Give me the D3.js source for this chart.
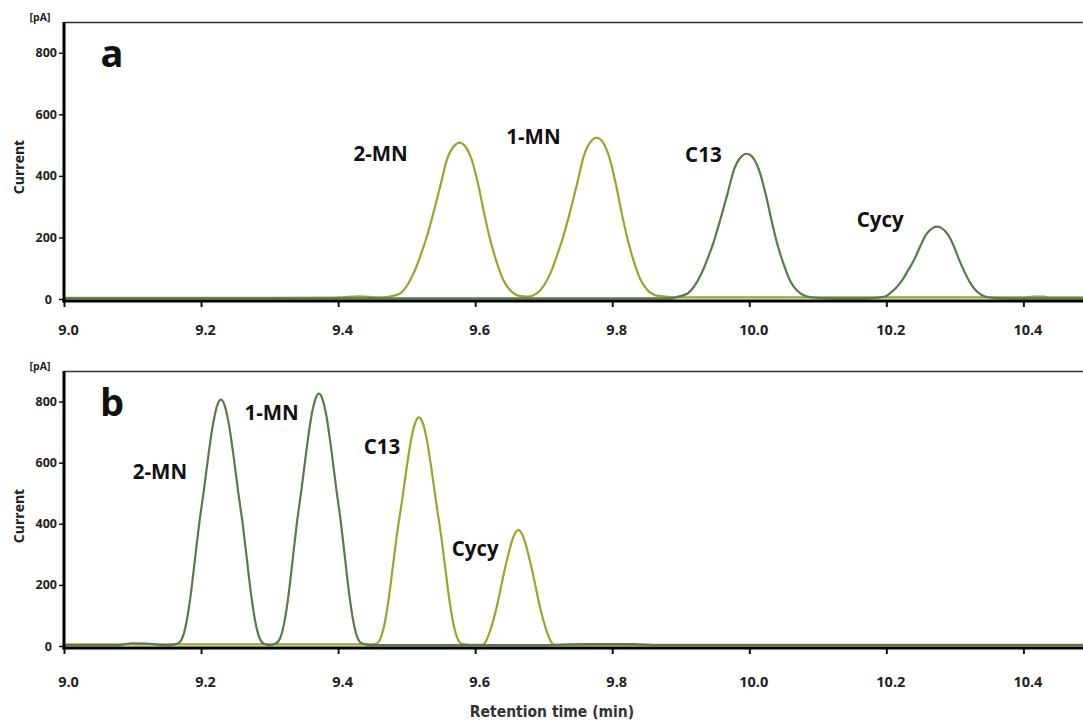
<!DOCTYPE html>
<html>
<head>
<meta charset="utf-8">
<script src="https://cdn.jsdelivr.net/npm/d3@7"></script>
<style>
  html, body { margin: 0; padding: 0; background: #fff; }
  svg { display: block; }
</style>
</head>
<body>
<svg id="chart" width="1083" height="722"></svg>
<script>
// ---------------- DATA ----------------
const xTicks = [9.0, 9.2, 9.4, 9.6, 9.8, 10.0, 10.2, 10.4];
const yTicks = [0, 200, 400, 600, 800];
const xDomain = [9.0, 10.487];
const yDomain = [0, 900];

// Panel a — olive trace (2-MN, 1-MN)
const aOliveTime = [9.0, 9.30, 9.40, 9.43, 9.46, 9.476, 9.4905, 9.500, 9.510, 9.5197, 9.5295, 9.539, 9.549, 9.5587, 9.5705, 9.577, 9.584, 9.595, 9.605, 9.613, 9.622, 9.632, 9.641, 9.651, 9.663, 9.677,
  9.6905, 9.700, 9.710, 9.7197, 9.7295, 9.739, 9.749, 9.7587, 9.7705, 9.777, 9.784, 9.795, 9.805, 9.813, 9.822, 9.832, 9.841, 9.851, 9.863, 9.878, 9.90, 10.0, 10.40, 10.415, 10.43, 10.44, 10.487];
const aOliveValue = [4, 4, 5, 9, 5, 8, 18, 42, 83, 138, 203, 279, 366, 452, 500, 508, 500, 452, 366, 279, 192, 116, 62, 29, 11, 8,
  19, 43, 85, 143, 210, 288, 377, 466, 516, 524, 516, 466, 377, 288, 198, 119, 64, 30, 12, 8, 5, 5, 5, 8, 8, 5, 5];

// Panel a — dark green trace (C13, Cycy)
const aDarkTime = [9.0, 9.5, 9.88, 9.895, 9.9095, 9.919, 9.929, 9.9387, 9.9485, 9.958, 9.968, 9.9777, 9.9895, 9.996, 10.003, 10.014, 10.024, 10.032, 10.041, 10.051, 10.060, 10.070, 10.082, 10.097, 10.12, 10.17,
  10.185, 10.198, 10.206, 10.215, 10.224, 10.232, 10.241, 10.249, 10.258, 10.268, 10.274, 10.280, 10.290, 10.299, 10.306, 10.314, 10.322, 10.330, 10.339, 10.350, 10.363, 10.40, 10.487];
const aDarkValue = [2, 2, 2, 7, 17, 39, 77, 128, 189, 260, 340, 420, 465, 472, 465, 420, 340, 260, 178, 108, 58, 27, 10, 4, 2, 2,
  4, 8, 20, 38, 64, 94, 129, 169, 209, 231, 235, 231, 209, 169, 129, 89, 54, 29, 13, 5, 3, 2, 2];

// Panel b — dark green trace (2-MN, 1-MN)
const bDarkTime = [9.0, 9.08, 9.10, 9.12, 9.14, 9.155,
  9.166, 9.173, 9.179, 9.185, 9.191, 9.197, 9.204, 9.211, 9.218, 9.224, 9.229, 9.234, 9.240, 9.247, 9.254, 9.261, 9.267, 9.273, 9.279, 9.285, 9.291,
  9.300,
  9.309, 9.316, 9.322, 9.328, 9.334, 9.340, 9.347, 9.354, 9.361, 9.367, 9.372, 9.377, 9.383, 9.390, 9.397, 9.404, 9.410, 9.416, 9.422, 9.428, 9.435,
  9.447, 9.70, 9.76, 9.83, 9.86, 10.487];
const bDarkValue = [3, 3, 9, 8, 4, 3,
  8, 28, 81, 169, 282, 395, 508, 629, 733, 790, 806, 790, 733, 629, 508, 395, 282, 169, 81, 28, 8,
  3,
  8, 29, 83, 173, 289, 405, 520, 644, 752, 809, 826, 809, 752, 644, 520, 405, 289, 173, 83, 29, 8,
  3, 3, 6, 6, 3, 3];

// Panel b — olive trace (C13, Cycy)
const bOliveTime = [9.0, 9.443,
  9.455, 9.462, 9.468, 9.474, 9.480, 9.486, 9.493, 9.500, 9.507, 9.513, 9.518, 9.523, 9.529, 9.536, 9.543, 9.550, 9.556, 9.562, 9.568, 9.574, 9.581,
  9.593,
  9.610, 9.615, 9.620, 9.626, 9.632, 9.637, 9.642, 9.648, 9.654, 9.659, 9.663, 9.667, 9.672, 9.678, 9.684, 9.689, 9.694, 9.700, 9.706, 9.711, 9.716,
  9.74, 10.487];
const bOliveValue = [5, 5,
  7, 26, 75, 157, 262, 367, 471, 583, 681, 733, 748, 733, 681, 583, 471, 367, 262, 157, 75, 26, 7,
  4,
  4, 13, 38, 80, 133, 186, 239, 296, 346, 372, 380, 372, 346, 296, 239, 186, 133, 80, 38, 13, 4,
  4, 4];

// Peak labels
const aLabels = ["2-MN", "1-MN", "C13", "Cycy"];
const aLabelTime = [9.462, 9.685, 9.933, 10.191];
const aLabelValue = [450, 504, 445, 234];
const bLabels = ["2-MN", "1-MN", "C13", "Cycy"];
const bLabelTime = [9.14, 9.303, 9.464, 9.6];
const bLabelValue = [547, 741, 630, 295];

const panelLetters = ["a", "b"];

// ---------------- DRAWING ----------------
const COL_OLIVE = "#98a72b";
const COL_DARK = "#5a7a4e";
const FONT = "'Open Sans', 'DejaVu Sans', sans-serif";

const svg = d3.select("#chart");
const left = 64, right = 1083;

const x = d3.scaleLinear().domain(xDomain).range([left, right]);

const panels = [
  { top: 22, zero: 299, letter: panelLetters[0],
    traces: [[aOliveTime, aOliveValue, COL_OLIVE], [aDarkTime, aDarkValue, COL_DARK]],
    labels: [aLabels, aLabelTime, aLabelValue], tickLabelY: 335 },
  { top: 371, zero: 646, letter: panelLetters[1],
    traces: [[bOliveTime, bOliveValue, COL_OLIVE], [bDarkTime, bDarkValue, COL_DARK]],
    labels: [bLabels, bLabelTime, bLabelValue], tickLabelY: 687 }
];

panels.forEach(p => {
  const y = d3.scaleLinear().domain(yDomain).range([p.zero, p.top]);
  const g = svg.append("g");

  // top border
  g.append("line")
    .attr("x1", left).attr("x2", right)
    .attr("y1", p.top + 0.5).attr("y2", p.top + 0.5)
    .attr("stroke", "#333").attr("stroke-width", 1.5);

  // traces
  const line = d3.line()
    .x(d => x(d[0])).y(d => y(d[1]))
    .curve(d3.curveMonotoneX);
  p.traces.forEach(([ts, vs, col]) => {
    const pts = ts.map((t, i) => [t, vs[i]]);
    g.append("path")
      .datum(pts)
      .attr("d", line)
      .attr("fill", "none")
      .attr("stroke", col)
      .attr("stroke-width", 2.2)
      .attr("stroke-linejoin", "round");
  });

  // y axis
  const yAxis = d3.axisLeft(y).tickValues(yTicks).tickSize(5).tickPadding(2).tickFormat(d3.format("d"));
  const ya = g.append("g").attr("transform", `translate(${left},0)`).call(yAxis);
  ya.select(".domain").remove();
  ya.selectAll(".tick line").attr("stroke", "#111").attr("stroke-width", 1.5);
  ya.selectAll(".tick text")
    .attr("font-family", FONT).attr("font-weight", 700).attr("font-size", 12.5)
    .attr("fill", "#222")
    .attr("dx", d => d === 0 ? -5 : 0);
  g.append("line")
    .attr("x1", left).attr("x2", left)
    .attr("y1", p.top).attr("y2", p.zero + 3.5)
    .attr("stroke", "#000").attr("stroke-width", 3);

  // x axis
  const xAxis = d3.axisBottom(x).tickValues(xTicks).tickSize(6).tickPadding(0).tickFormat(d3.format(".1f"));
  const xa = g.append("g").attr("transform", `translate(0,${p.zero + 2})`).call(xAxis);
  xa.select(".domain").remove();
  xa.selectAll(".tick line").attr("stroke", "#111").attr("stroke-width", 2);
  xa.selectAll(".tick text")
    .attr("font-family", FONT).attr("font-weight", 700).attr("font-size", 14.5)
    .attr("fill", "#222")
    .attr("dx", 4)
    .attr("y", p.tickLabelY - p.zero - 2 - 10);
  g.append("line")
    .attr("x1", left - 1.5).attr("x2", right)
    .attr("y1", p.zero + 2).attr("y2", p.zero + 2)
    .attr("stroke", "#000").attr("stroke-width", 3);

  // [pA]
  g.append("text")
    .attr("x", 40).attr("y", p.top - 1)
    .attr("text-anchor", "middle")
    .attr("font-family", FONT).attr("font-weight", 700).attr("font-size", 10.5)
    .attr("fill", "#222")
    .text("[pA]");

  // Current
  const cy = p.top + 145;
  g.append("text")
    .attr("transform", `translate(24,${cy}) rotate(-90)`)
    .attr("text-anchor", "middle")
    .attr("font-family", FONT).attr("font-weight", 700).attr("font-size", 14)
    .attr("fill", "#222")
    .text("Current");

  // panel letter
  g.append("text")
    .attr("x", 112).attr("y", p.top + 45)
    .attr("text-anchor", "middle")
    .attr("font-family", FONT).attr("font-weight", 700).attr("font-size", 38)
    .attr("fill", "#111")
    .text(p.letter);

  // peak labels
  const [names, lt, lv] = p.labels;
  names.forEach((n, i) => {
    g.append("text")
      .attr("x", x(lt[i])).attr("y", y(lv[i]))
      .attr("text-anchor", "middle")
      .attr("font-family", FONT).attr("font-weight", 700).attr("font-size", 20.5)
      .attr("fill", "#111")
      .text(n);
  });
});

// x axis title
svg.append("text")
  .attr("x", 552).attr("y", 717)
  .attr("text-anchor", "middle")
  .attr("font-family", "'DejaVu Sans Condensed', 'DejaVu Sans', sans-serif")
  .attr("font-stretch", "condensed")
  .attr("font-weight", 700).attr("font-size", 15.5)
  .attr("fill", "#333")
  .text("Retention time (min)");
</script>
</body>
</html>
